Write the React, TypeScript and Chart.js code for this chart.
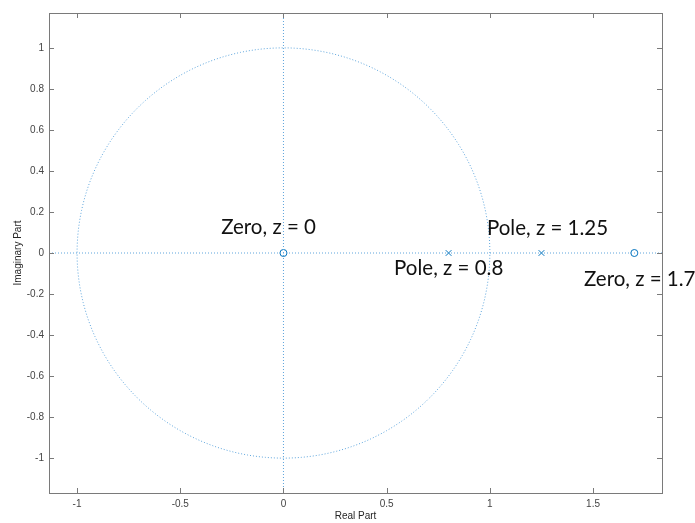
import React, { useEffect, useRef } from "react";
import { Chart, registerables } from "chart.js";

Chart.register(...registerables);

// Axis limits (data units)
const xLimits = [-1.136, 1.834];
const yLimits = [-1.17, 1.17];

// Tick values and labels
const xTicks = [-1, -0.5, 0, 0.5, 1, 1.5];
const xTickLabels = ["-1", "-0.5", "0", "0.5", "1", "1.5"];
const yTicks = [-1, -0.8, -0.6, -0.4, -0.2, 0, 0.2, 0.4, 0.6, 0.8, 1];
const yTickLabels = ["-1", "-0.8", "-0.6", "-0.4", "-0.2", "0", "0.2", "0.4", "0.6", "0.8", "1"];

// Zeros and poles (real parts; imaginary parts are 0)
const zerosRe = [0, 1.7];
const zerosIm = [0, 0];
const polesRe = [0.8, 1.25];
const polesIm = [0, 0];

// Annotations: text and anchor (left edge, vertical middle) in data units
const noteTexts = ["Zero, z = 0", "Pole, z = 1.25", "Pole, z = 0.8", "Zero, z = 1.7"];
const noteX = [-0.302, 0.986, 0.536, 1.456];
const noteY = [0.123, 0.118, -0.077, -0.131];

const xTitle = "Real Part";
const yTitle = "Imaginary Part";

const BLUE = "#0072BD";
const DOT = "#5ea5dc";
const TICK_FONT = '10px "Liberation Sans", Arial, sans-serif';

const unitCircle = Array.from({ length: 361 }, (_, i) => {
  const t = (i * Math.PI) / 180;
  return { x: Math.cos(t), y: Math.sin(t) };
});

const framePlugin = {
  id: "frame",
  afterDraw(chart: any) {
    const { ctx, chartArea: a, scales } = chart;
    const xs = scales.x;
    const ys = scales.y;
    ctx.save();
    // annotations
    ctx.fillStyle = "#111";
    ctx.font = '20.5px Lato, "Open Sans", sans-serif';
    ctx.textAlign = "left";
    ctx.textBaseline = "middle";
    noteTexts.forEach((t, i) => {
      ctx.fillText(t, xs.getPixelForValue(noteX[i]), ys.getPixelForValue(noteY[i]));
    });
    // box
    ctx.strokeStyle = "#7a7a7a";
    ctx.lineWidth = 1;
    ctx.strokeRect(Math.round(a.left) + 0.5, Math.round(a.top) + 0.5, Math.round(a.right - a.left), Math.round(a.bottom - a.top));
    const L = 5;
    ctx.beginPath();
    xTicks.forEach((v) => {
      const px = Math.round(xs.getPixelForValue(v)) + 0.5;
      ctx.moveTo(px, a.bottom);
      ctx.lineTo(px, a.bottom - L);
      ctx.moveTo(px, a.top);
      ctx.lineTo(px, a.top + L);
    });
    yTicks.forEach((v) => {
      const py = Math.round(ys.getPixelForValue(v)) + 0.5;
      ctx.moveTo(a.left, py);
      ctx.lineTo(a.left + L, py);
      ctx.moveTo(a.right, py);
      ctx.lineTo(a.right - L, py);
    });
    ctx.stroke();
    // tick labels
    ctx.fillStyle = "#444";
    ctx.font = TICK_FONT;
    ctx.textAlign = "center";
    ctx.textBaseline = "middle";
    xTicks.forEach((v, i) => {
      ctx.fillText(xTickLabels[i], xs.getPixelForValue(v), a.bottom + 11);
    });
    ctx.textAlign = "right";
    yTicks.forEach((v, i) => {
      ctx.fillText(yTickLabels[i], a.left - 5, ys.getPixelForValue(v));
    });
    // titles
    ctx.fillStyle = "#262626";
    ctx.textAlign = "center";
    ctx.fillText(xTitle, (a.left + a.right) / 2, a.bottom + 23);
    ctx.translate(18, (a.top + a.bottom) / 2);
    ctx.rotate(-Math.PI / 2);
    ctx.fillText(yTitle, 0, 0);
    ctx.restore();
  },
};

export default function App() {
  const ref = useRef<HTMLCanvasElement>(null);
  useEffect(() => {
    const dotted = {
      showLine: true,
      pointRadius: 0,
      borderColor: DOT,
      borderWidth: 1,
      borderDash: [1, 2],
      fill: false,
    };
    const chart = new Chart(ref.current!, {
      type: "scatter",
      data: {
        datasets: [
          { ...dotted, data: unitCircle },
          { ...dotted, data: [{ x: xLimits[0], y: 0 }, { x: xLimits[1], y: 0 }] },
          { ...dotted, data: [{ x: 0, y: yLimits[0] }, { x: 0, y: yLimits[1] }] },
          {
            data: zerosRe.map((x, i) => ({ x, y: zerosIm[i] })),
            pointStyle: "circle",
            pointRadius: 3.5,
            borderColor: BLUE,
            backgroundColor: "rgba(0,0,0,0)",
            borderWidth: 1,
          },
          {
            data: polesRe.map((x, i) => ({ x, y: polesIm[i] })),
            pointStyle: "crossRot",
            pointRadius: 4,
            borderColor: BLUE,
            borderWidth: 1,
          },
        ],
      },
      options: {
        responsive: false,
        animation: false,
        devicePixelRatio: 1,
        layout: { padding: { left: 0, top: 13, right: 33, bottom: 0 } },
        plugins: { legend: { display: false }, tooltip: { enabled: false } },
        scales: {
          x: {
            type: "linear",
            min: xLimits[0],
            max: xLimits[1],
            grid: { display: false },
            border: { display: false },
            ticks: { display: false },
            afterBuildTicks: (s: any) => {
              s.ticks = xTicks.map((v) => ({ value: v }));
            },
            afterFit: (s: any) => {
              s.height = 30;
            },
          },
          y: {
            type: "linear",
            min: yLimits[0],
            max: yLimits[1],
            grid: { display: false },
            border: { display: false },
            ticks: { display: false },
            afterBuildTicks: (s: any) => {
              s.ticks = yTicks.map((v) => ({ value: v }));
            },
            afterFit: (s: any) => {
              s.width = 49;
            },
          },
        },
      },
      plugins: [framePlugin],
    } as any);
    return () => chart.destroy();
  }, []);
  return (
    <div style={{ position: "fixed", left: 0, top: 0, width: 695, height: 523, background: "#fff" }}>
      <canvas ref={ref} width={695} height={523} style={{ display: "block" }} />
    </div>
  );
}
